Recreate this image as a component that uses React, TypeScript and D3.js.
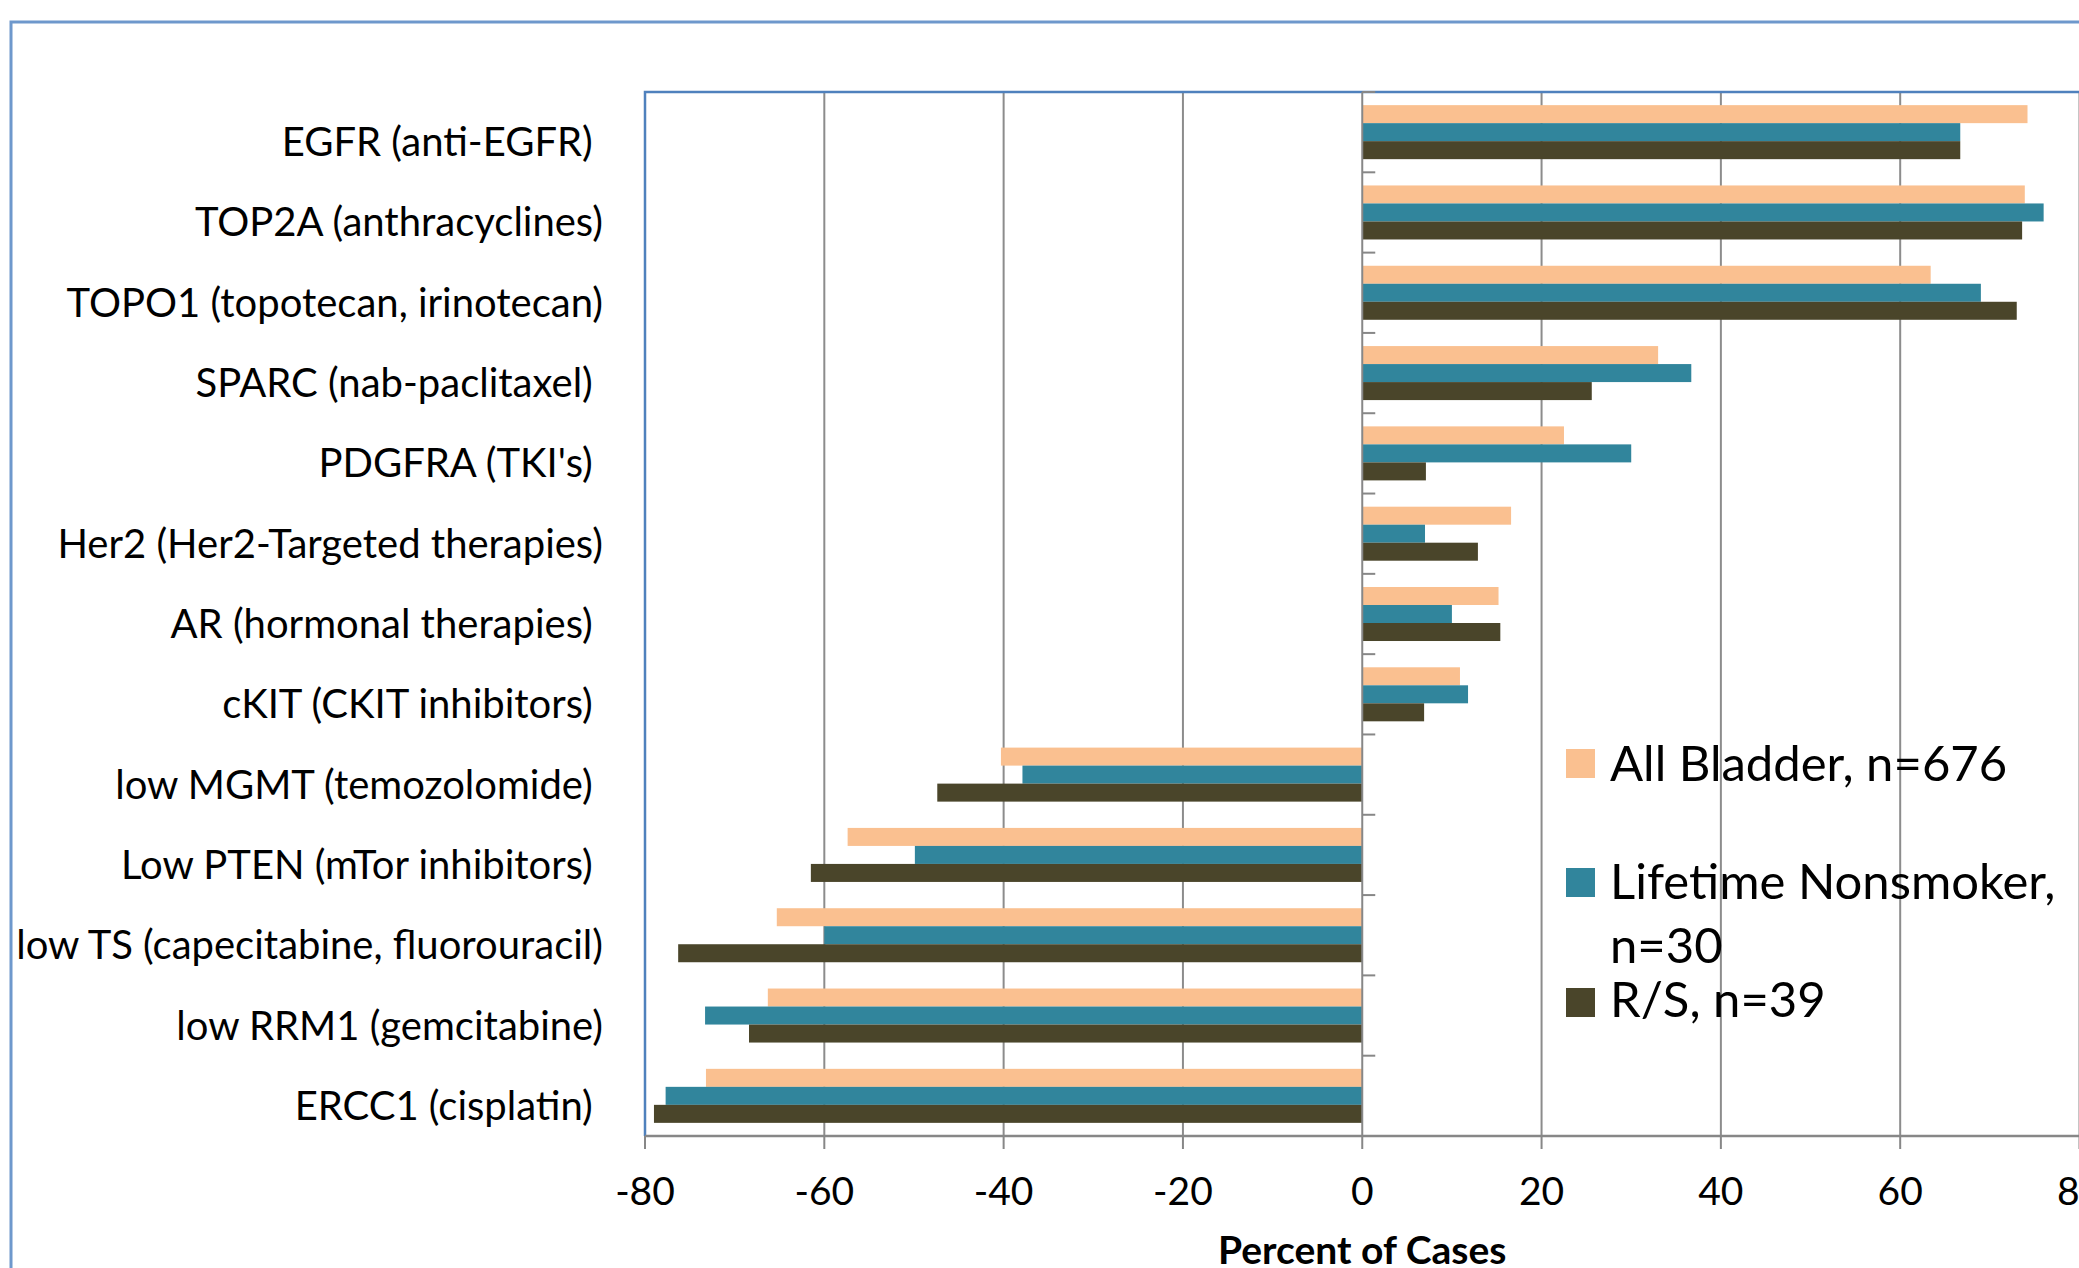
import React from "react";
import * as d3 from "d3";

// Biomarker categories, top to bottom (trailing spaces kept as typed in the source workbook)
const categories = [
  "EGFR (anti-EGFR) ",
  "TOP2A (anthracyclines)",
  "TOPO1 (topotecan, irinotecan)",
  "SPARC (nab-paclitaxel) ",
  "PDGFRA (TKI's) ",
  "Her2 (Her2-Targeted therapies)",
  "AR (hormonal therapies) ",
  "cKIT (CKIT inhibitors) ",
  "low MGMT (temozolomide) ",
  "Low PTEN (mTor inhibitors) ",
  "low TS (capecitabine, fluorouracil)",
  "low RRM1 (gemcitabine)",
  "ERCC1 (cisplatin) ",
];

const seriesNames = ["All Bladder, n=676", "Lifetime Nonsmoker, n=30", "R/S, n=39"];
const seriesColors = ["#FAC090", "#31859C", "#4A452A"];

const allBladder = [74.2, 73.9, 63.4, 33.0, 22.5, 16.6, 15.2, 10.9, -40.3, -57.4, -65.3, -66.3, -73.2];
const nonsmoker = [66.7, 76.0, 69.0, 36.7, 30.0, 7.0, 10.0, 11.8, -37.9, -49.9, -60.0, -73.3, -77.7];
const rsGroup = [66.7, 73.6, 73.0, 25.6, 7.1, 12.9, 15.4, 6.9, -47.4, -61.5, -76.3, -68.4, -79.0];

const xTicks = [-80, -60, -40, -20, 0, 20, 40, 60, 80];
const xTitle = "Percent of Cases";

const W = 2079;
const H = 1268;
const FONT = "Lato, 'Open Sans', sans-serif";

export default function App() {
  const plot = { left: 645, right: 2079.5, top: 92, bottom: 1136 };
  const x = d3.scaleLinear().domain([-80, 80]).range([plot.left, plot.right]);
  const y = d3.scaleBand<string>().domain(categories).range([plot.top, plot.bottom]).padding(0);
  const inner = d3
    .scaleBand<number>()
    .domain([0, 1, 2])
    .range([0, y.bandwidth()])
    .paddingInner(0)
    .paddingOuter(0.73);

  const values = [allBladder, nonsmoker, rsGroup];
  const x0 = x(0);
  const boundaries = d3.range(categories.length + 1).map((i) => plot.top + i * y.step());

  // legend: the second entry wraps onto two lines
  const legendLines = [["All Bladder, n=676"], ["Lifetime Nonsmoker,", "n=30"], ["R/S, n=39"]];
  const legendSquareY = [749, 868, 988];
  const legendBaseY = [781, 899, 1017];

  return (
    <svg
      width={W}
      height={H}
      viewBox={`0 0 ${W} ${H}`}
      style={{ position: "absolute", left: 0, top: 0, background: "#fff" }}
    >
      <rect x={0} y={0} width={W} height={H} fill="#fff" />

      {/* outer chart frame */}
      <path d={`M11,${H} V22 H${W}`} fill="none" stroke="#6E98CC" strokeWidth={3} />

      {/* vertical gridlines */}
      {xTicks
        .filter((t) => t !== 0 && t !== -80)
        .map((t) => (
          <line key={`g${t}`} x1={x(t)} x2={x(t)} y1={plot.top} y2={plot.bottom} stroke="#8C8C8C" strokeWidth={2} />
        ))}

      {/* bars */}
      {values.map((vals, si) =>
        vals.map((v, ci) => {
          const cat = categories[ci];
          const yy = (y(cat) as number) + (inner(si) as number);
          return (
            <rect
              key={`b${si}-${ci}`}
              x={x(Math.min(0, v))}
              y={yy}
              width={Math.abs(x(v) - x0)}
              height={inner.bandwidth()}
              fill={seriesColors[si]}
            />
          );
        })
      )}

      {/* plot area border (top and left) */}
      <path d={`M${plot.left},${plot.bottom} V${plot.top} H${W}`} fill="none" stroke="#4F81BD" strokeWidth={2.5} />

      {/* category axis at zero with tick marks */}
      <line x1={x0} x2={x0} y1={plot.top} y2={plot.bottom} stroke="#878787" strokeWidth={2} />
      {boundaries.map((b, i) => (
        <line key={`ct${i}`} x1={x0} x2={x0 + 13} y1={b} y2={b} stroke="#878787" strokeWidth={2} />
      ))}

      {/* value axis */}
      <line x1={plot.left} x2={W} y1={plot.bottom} y2={plot.bottom} stroke="#878787" strokeWidth={2.5} />
      {xTicks.map((t) => (
        <line key={`xt${t}`} x1={x(t)} x2={x(t)} y1={plot.bottom} y2={plot.bottom + 13} stroke="#878787" strokeWidth={2} />
      ))}
      {xTicks.map((t) => (
        <text
          key={`xl${t}`}
          x={x(t)}
          y={1205}
          textAnchor="middle"
          fontFamily={FONT}
          fontSize={39}
          fill="#000"
        >
          {t}
        </text>
      ))}
      <text
        x={(plot.left + plot.right) / 2}
        y={1264}
        textAnchor="middle"
        fontFamily={FONT}
        fontSize={39}
        fontWeight="bold"
        fill="#000"
      >
        {xTitle}
      </text>

      {/* category labels */}
      {categories.map((c) => (
        <text
          key={`cl${c}`}
          x={603}
          y={(y(c) as number) + y.bandwidth() / 2 + 24}
          textAnchor="end"
          fontFamily={FONT}
          fontSize={40}
          fill="#000"
          style={{ whiteSpace: "pre" }}
        >
          {c}
        </text>
      ))}

      {/* legend */}
      {seriesNames.map((name, i) => (
        <g key={`lg${i}`}>
          <rect x={1566} y={legendSquareY[i]} width={29} height={29} fill={seriesColors[i]} />
          {legendLines[i].map((line, li) => (
            <text
              key={li}
              x={1610}
              y={legendBaseY[i] + li * 64}
              fontFamily={FONT}
              fontSize={49}
              fill="#000"
            >
              {line}
            </text>
          ))}
        </g>
      ))}
    </svg>
  );
}
